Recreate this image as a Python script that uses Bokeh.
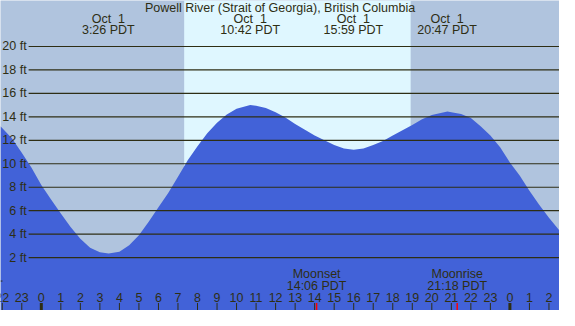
from bokeh.plotting import figure
from bokeh.models import Range1d
from bokeh.core.properties import value
from bokeh.embed import file_html
from bokeh.resources import INLINE

# ---- data (hours relative to Oct 1 00:00, heights in ft) ----
title = "Powell River (Strait of Georgia), British Columbia"
tide_hours = [-2.09, -1.5, -1.0, -0.5, 0.0, 0.5, 1.0, 1.5, 2.0, 2.5, 3.0, 3.45, 4.0, 4.5,
              5.0, 5.5, 6.0, 6.5, 7.0, 7.5, 8.0, 8.5, 9.0, 9.5, 10.0, 10.7, 11.0, 11.5,
              12.0, 12.5, 13.0, 13.5, 14.0, 14.5, 15.0, 15.5, 16.0, 16.5, 17.0, 17.5,
              18.0, 18.5, 19.0, 19.5, 20.0, 20.8, 21.0, 21.5, 22.0, 22.5, 23.0, 23.5,
              24.0, 24.5, 25.0, 25.5, 26.0, 26.54]
tide_ft = [13.2, 12.15, 10.95, 9.65, 8.2, 6.95, 5.75, 4.6, 3.6, 2.85, 2.45, 2.35, 2.5, 3.05,
           3.9, 5.05, 6.3, 7.5, 8.9, 10.3, 11.5, 12.6, 13.5, 14.2, 14.7, 15.0, 14.95, 14.75,
           14.4, 13.95, 13.4, 12.9, 12.4, 12.0, 11.6, 11.3, 11.2, 11.3, 11.6, 11.95,
           12.4, 12.85, 13.3, 13.8, 14.15, 14.45, 14.4, 14.25, 13.9, 13.2, 12.4, 11.4,
           10.1, 9.0, 7.7, 6.5, 5.4, 4.3]
extreme_hours = [3 + 26/60, 10 + 42/60, 15 + 59/60, 20 + 47/60]
extreme_dates = ["Oct\u00a0\u00a01", "Oct\u00a0\u00a01", "Oct\u00a0\u00a01", "Oct\u00a0\u00a01"]
extreme_times = ["3:26 PDT", "10:42 PDT", "15:59 PDT", "20:47 PDT"]
sunrise, sunset = 7 + 19/60, 18 + 55/60
moon_hours = [14 + 6/60, 21 + 18/60]
moon_names = ["Moonset", "Moonrise"]
moon_times = ["14:06 PDT", "21:18 PDT"]
grid_ft = [2, 4, 6, 8, 10, 12, 14, 16, 18, 20]
grid_labels = [f"{v} ft" for v in grid_ft]
hour_ticks = list(range(-2, 27))
hour_labels = [str(h % 24) for h in hour_ticks]

# ---- style ----
NIGHT = "#b0c4de"
DAY = "#dff7ff"
WATER = "#4262d8"
INK = "#2e2e14"
FONT = value("Liberation Sans")
FS = "12.5px"

X0, X1 = -2.09, 26.54
Y0, Y1 = -2.51, 23.92

p = figure(width=559, height=310, x_range=Range1d(X0, X1), y_range=Range1d(Y0, Y1),
           output_backend="svg", toolbar_location=None,
           x_axis_type=None, y_axis_type=None, min_border=0,
           background_fill_color=NIGHT, border_fill_color=NIGHT)
p.outline_line_color = None
p.grid.visible = False
p.min_border_left = p.min_border_right = p.min_border_top = p.min_border_bottom = 0

# daylight
p.quad(left=[sunrise], right=[sunset], bottom=[Y0], top=[Y1],
       fill_color=DAY, line_color=None)

# tide
p.varea(x=tide_hours, y1=[Y0] * len(tide_hours), y2=tide_ft, fill_color=WATER)

# gridlines and labels
gx0 = -0.65
p.segment(x0=[gx0] * len(grid_ft), x1=[X1] * len(grid_ft), y0=grid_ft, y1=grid_ft,
          line_color=INK, line_width=1.2)
p.text(x=[-0.75] * len(grid_ft), y=grid_ft, text=grid_labels, text_align="right",
       text_baseline="middle", text_font=FONT, text_font_size=FS, text_color=INK)
p.segment(x0=[X0], x1=[X0 + 0.1], y0=[0], y1=[0], line_color=INK, line_width=1)

# title and extremes
p.text(x=[(X0 + X1) / 2], y=[23.3], text=[title], text_align="center",
       text_baseline="middle", text_font=FONT, text_font_size=FS, text_color=INK)
p.text(x=extreme_hours, y=[22.34] * 4, text=extreme_dates, text_align="center",
       text_baseline="middle", text_font=FONT, text_font_size=FS, text_color=INK)
p.text(x=extreme_hours, y=[21.37] * 4, text=extreme_times, text_align="center",
       text_baseline="middle", text_font=FONT, text_font_size=FS, text_color=INK)

# moon
p.text(x=moon_hours, y=[0.57] * 2, text=moon_names, text_align="center",
       text_baseline="middle", text_font=FONT, text_font_size=FS, text_color=INK)
p.text(x=moon_hours, y=[-0.41] * 2, text=moon_times, text_align="center",
       text_baseline="middle", text_font=FONT, text_font_size=FS, text_color=INK)

# hour ticks
p.text(x=hour_ticks, y=[-1.38] * len(hour_ticks), text=hour_labels, text_align="center",
       text_baseline="middle", text_font=FONT, text_font_size=FS, text_color=INK)
reg = [h for h in hour_ticks if h % 24 != 0]
mid = [h for h in hour_ticks if h % 24 == 0]
p.segment(x0=reg, x1=reg, y0=[-1.87] * len(reg), y1=[Y0] * len(reg),
          line_color=INK, line_width=1)
p.segment(x0=mid, x1=mid, y0=[-1.87] * len(mid), y1=[Y0] * len(mid),
          line_color=INK, line_width=3)
p.segment(x0=moon_hours, x1=moon_hours, y0=[-1.87] * 2, y1=[Y0] * 2,
          line_color="red", line_width=1.5)

open("out.html", "w").write(file_html(p, INLINE))
